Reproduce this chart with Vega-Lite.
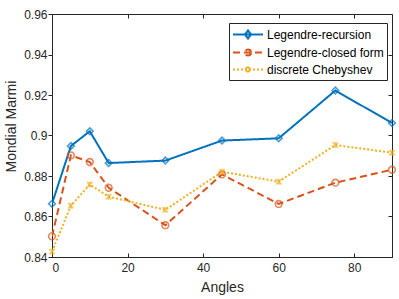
{
  "$schema": "https://vega.github.io/schema/vega-lite/v6.json",
  "width": 340,
  "height": 243,
  "autosize": "none",
  "padding": {"left": 52, "top": 14, "right": 7, "bottom": 42},
  "background": "white",
  "config": {
    "view": {"stroke": "#262626", "strokeWidth": 1},
    "font": "Liberation Sans",
    "axis": {
      "domainColor": "#262626",
      "tickColor": "#262626",
      "labelColor": "#262626",
      "titleColor": "#262626",
      "labelFont": "Liberation Sans",
      "titleFont": "Liberation Sans",
      "labelFontSize": 12,
      "titleFontSize": 14,
      "titleFontWeight": "normal",
      "gridColor": "#e3e3e3",
      "gridOpacity": 1
    }
  },
  "data": {
    "values": [
      {"angle": 0, "value": 0.8663, "method": "Legendre-recursion"},
      {"angle": 5, "value": 0.8948, "method": "Legendre-recursion"},
      {"angle": 10, "value": 0.9021, "method": "Legendre-recursion"},
      {"angle": 15, "value": 0.8864, "method": "Legendre-recursion"},
      {"angle": 30, "value": 0.8876, "method": "Legendre-recursion"},
      {"angle": 45, "value": 0.8975, "method": "Legendre-recursion"},
      {"angle": 60, "value": 0.8986, "method": "Legendre-recursion"},
      {"angle": 75, "value": 0.9222, "method": "Legendre-recursion"},
      {"angle": 90, "value": 0.9062, "method": "Legendre-recursion"},
      {"angle": 0, "value": 0.8502, "method": "Legendre-closed form"},
      {"angle": 5, "value": 0.8902, "method": "Legendre-closed form"},
      {"angle": 10, "value": 0.8869, "method": "Legendre-closed form"},
      {"angle": 15, "value": 0.8742, "method": "Legendre-closed form"},
      {"angle": 30, "value": 0.8557, "method": "Legendre-closed form"},
      {"angle": 45, "value": 0.8808, "method": "Legendre-closed form"},
      {"angle": 60, "value": 0.8662, "method": "Legendre-closed form"},
      {"angle": 75, "value": 0.8767, "method": "Legendre-closed form"},
      {"angle": 90, "value": 0.8831, "method": "Legendre-closed form"},
      {"angle": 0, "value": 0.8427, "method": "discrete Chebyshev"},
      {"angle": 5, "value": 0.8653, "method": "discrete Chebyshev"},
      {"angle": 10, "value": 0.8758, "method": "discrete Chebyshev"},
      {"angle": 15, "value": 0.8698, "method": "discrete Chebyshev"},
      {"angle": 30, "value": 0.8633, "method": "discrete Chebyshev"},
      {"angle": 45, "value": 0.8821, "method": "discrete Chebyshev"},
      {"angle": 60, "value": 0.8772, "method": "discrete Chebyshev"},
      {"angle": 75, "value": 0.8953, "method": "discrete Chebyshev"},
      {"angle": 90, "value": 0.8915, "method": "discrete Chebyshev"}
    ]
  },
  "resolve": {
    "legend": {"color": "independent", "shape": "independent", "strokeDash": "independent"},
    "axis": {"x": "independent", "y": "independent"}
  },
  "layer": [
    {
      "mark": {"type": "point", "opacity": 0},
      "encoding": {
        "x": {
          "field": "angle", "type": "quantitative",
          "scale": {"domain": [0, 90], "nice": false},
          "axis": {"orient": "top", "title": null, "values": [0, 20, 40, 60, 80], "labels": false, "domain": false, "grid": false, "tickSize": -4}
        },
        "y": {
          "field": "value", "type": "quantitative",
          "scale": {"domain": [0.84, 0.96], "nice": false, "zero": false},
          "axis": {"orient": "right", "title": null, "values": [0.84, 0.86, 0.88, 0.9, 0.92, 0.94, 0.96], "labels": false, "domain": false, "grid": false, "tickSize": -4}
        }
      }
    },
    {
      "mark": {"type": "line", "strokeWidth": 2, "clip": true},
      "encoding": {
        "x": {
          "field": "angle", "type": "quantitative",
          "axis": {"title": "Angles", "values": [0, 20, 40, 60, 80], "tickSize": -4, "labelPadding": 9, "titlePadding": 7}
        },
        "y": {
          "field": "value", "type": "quantitative",
          "axis": {"title": "Mondial Marmi", "values": [0.84, 0.86, 0.88, 0.9, 0.92, 0.94, 0.96], "format": ".2~f", "tickSize": 4, "labelPadding": 1, "titlePadding": 5, "titleY": 112}
        },
        "color": {
          "field": "method", "type": "nominal",
          "scale": {"domain": ["Legendre-recursion", "Legendre-closed form", "discrete Chebyshev"], "range": ["#0072BD", "#D95319", "#EDB120"]},
          "legend": {
            "title": null,
            "orient": "none",
            "legendX": 177,
            "legendY": 9,
            "symbolType": "stroke",
            "symbolSize": 225,
            "symbolStrokeWidth": 2,
            "symbolFillColor": "white",
            "labelFontSize": 12,
            "labelColor": "#000000",
            "labelFont": "Liberation Sans",
            "labelOffset": 18,
            "fillColor": "white",
            "strokeColor": "#262626",
            "padding": 3,
            "rowPadding": 1,
            "labelLimit": 300,
            "encode": {
              "symbols": {
                "update": {
                  "shape": {"signal": "datum.value === 'Legendre-recursion' ? 'M-1,0L3,0M1,-0.53L1.4,0L1,0.53L0.6,0Z' : datum.value === 'Legendre-closed form' ? 'M-1,0L3,0M1.4,0A0.4,0.4 0 1,1 0.6,0A0.4,0.4 0 1,1 1.4,0' : 'M-1,0L3,0M0.7,-0.3L1.3,0.3M0.7,0.3L1.3,-0.3M1,-0.4L1,0.4'"}
                }
              }
            }
          }
        },
        "strokeDash": {
          "field": "method", "type": "nominal",
          "scale": {"domain": ["Legendre-recursion", "Legendre-closed form", "discrete Chebyshev"], "range": [[1, 0], [7, 4], [2, 2]]},
          "legend": null
        }
      }
    },
    {
      "mark": {"type": "point", "filled": false, "strokeWidth": 1.6, "size": 45, "clip": false},
      "encoding": {
        "x": {"field": "angle", "type": "quantitative", "axis": null},
        "y": {"field": "value", "type": "quantitative", "axis": null},
        "color": {"field": "method", "type": "nominal", "legend": null},
        "shape": {
          "field": "method", "type": "nominal",
          "scale": {"domain": ["Legendre-recursion", "Legendre-closed form", "discrete Chebyshev"], "range": ["diamond", "circle", "M-0.8,-0.8L0.8,0.8M-0.8,0.8L0.8,-0.8M0,-0.9L0,0.9"]},
          "legend": null
        }
      }
    }
  ]
}
